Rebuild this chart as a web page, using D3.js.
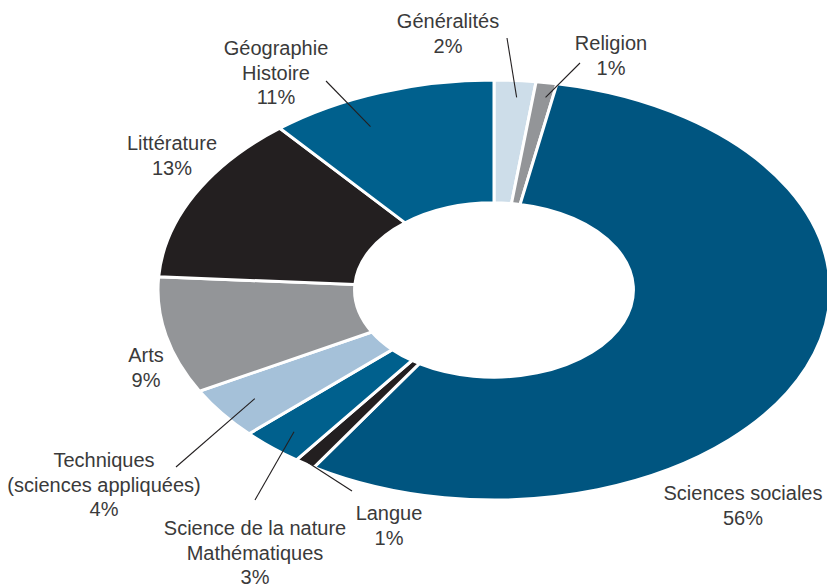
<!DOCTYPE html>
<html lang="fr">
<head>
    <meta charset="UTF-8">
    <title>Répartition par domaine</title>
    <script src="https://d3js.org/d3.v7.min.js"></script>
    <style>
        body { margin: 0; background: #fff; }
        text { font-family: "Liberation Sans", Arial, sans-serif; font-size: 20px; fill: #3a3a3a; }
    </style>
</head>
<body>
<svg width="827" height="587"></svg>
<script>
    // domaines, dans le sens horaire depuis midi
    var categories = ["Généralités", "Religion", "Sciences sociales", "Langue",
        "Science de la nature Mathématiques", "Techniques (sciences appliquées)",
        "Arts", "Littérature", "Géographie Histoire"];
    var values = [2, 1, 56, 1, 3, 4, 9, 13, 11];
    var labelLines = [
        ["Généralités", "2%"],
        ["Religion", "1%"],
        ["Sciences sociales", "56%"],
        ["Langue", "1%"],
        ["Science de la nature", "Mathématiques", "3%"],
        ["Techniques", "(sciences appliquées)", "4%"],
        ["Arts", "9%"],
        ["Littérature", "13%"],
        ["Géographie", "Histoire", "11%"]
    ];
    var colors = ["#cddde9", "#939598", "#005580", "#231f20", "#00608d",
                  "#a5c1d9", "#939598", "#231f20", "#00608d"];

    // placement des étiquettes (x, y de la 1re ligne) et bout des traits de rappel
    var labelPos = [[448, 28], [611, 50], [743, 500], [389, 520], [255, 535],
                    [104, 467], [146, 362], [172, 150], [276, 55]];
    var leaders = [[507, 38, 0.6, 0.92], [580, 63, 0.5, 0.93], null, [352, 491, 0, 0.99],
                   [255, 500, 0, 0.9], [176, 467, 0, 0.88], null, null, [326, 81, -5.5, 0.86]];

    var svg = d3.select("svg"),
        cx = 494, cy = 290,
        ry = 210, rx = 336,
        g = svg.append("g")
               .attr("transform", "translate(" + cx + "," + cy + ") scale(" + (rx / ry) + ",1)");

    var pie = d3.pie().sort(null).value(function(d) { return d; });
    var arcs = pie(values);
    var arc = d3.arc().innerRadius(ry * 0.415).outerRadius(ry);

    g.selectAll("path")
     .data(arcs)
     .enter().append("path")
     .attr("d", arc)
     .attr("fill", function(d, i) { return colors[i]; })
     .attr("stroke", "#fff")
     .attr("stroke-width", 3)
     .attr("vector-effect", "non-scaling-stroke");

    // point dans la part (coordonnées écran)
    function inner(d, dAngle, frac) {
        var a = (d.startAngle + d.endAngle) / 2 + dAngle * Math.PI / 180;
        return [cx + Math.sin(a) * rx * frac, cy - Math.cos(a) * ry * frac];
    }

    arcs.forEach(function(d, i) {
        var L = leaders[i];
        if (!L) return;
        var p = inner(d, L[2], L[3]);
        svg.append("line")
           .attr("x1", L[0]).attr("y1", L[1])
           .attr("x2", p[0]).attr("y2", p[1])
           .attr("stroke", "#231f20")
           .attr("stroke-width", 1.1);
    });

    labelLines.forEach(function(lines, i) {
        var t = svg.append("text")
                   .attr("text-anchor", "middle")
                   .attr("x", labelPos[i][0])
                   .attr("y", labelPos[i][1]);
        lines.forEach(function(s, k) {
            t.append("tspan")
             .attr("x", labelPos[i][0])
             .attr("dy", k === 0 ? 0 : 24.7)
             .text(s);
        });
    });
</script>
</body>
</html>
